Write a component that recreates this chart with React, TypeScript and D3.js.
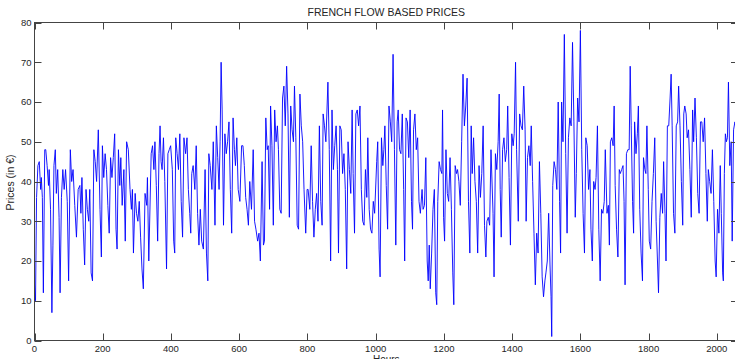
import React from 'react';
import * as d3 from 'd3';

const hours = [
  0,3,6,10,14,18,20,23,26,30,33,37,41,43,47,51,54,57,61,64,68,72,75,79,83,87,91,96,100,105,109,113,118,123,128,133,136,139,143,147,151,155,159,162,166,170,174,178,182,187,192,196,199,203,207,211,215,219,223,227,231,235,239,242,246,250,253,257,262,266,270,275,280,284,287,290,295,299,303,307,311,315,319,324,329,331,335,
  342,346,350,353,357,361,365,368,371,374,378,382,387,391,395,399,404,408,411,414,418,422,426,430,434,438,443,447,451,455,458,461,465,470,474,478,482,486,490,495,500,504,508,511,515,520,524,529,533,537,541,544,547,550,554,558,562,566,570,574,578,582,586,589,593,597,602,607,611,615,619,623,627,631,636,641,645,649,654,658,662,
  667,671,674,678,682,685,689,692,696,700,704,708,712,715,719,723,727,731,735,739,743,747,751,755,759,762,766,770,774,778,782,786,790,795,799,802,807,811,815,819,823,827,831,835,839,843,846,850,854,860,864,868,872,876,880,884,888,891,895,899,903,907,911,915,919,923,927,931,934,938,942,946,950,954,958,962,966,970,974,977,981,985,989,993,997,
  1003,1006,1010,1013,1017,1021,1024,1027,1031,1035,1039,1043,1047,1051,1055,1059,1063,1066,1070,1074,1078,1082,1085,1089,1093,1097,1101,1105,1108,1111,1115,1119,1123,1127,1131,1136,1139,1143,1147,1151,1154,1157,1160,1164,1168,1172,1176,1179,1182,1186,1190,1194,1196,1199,1202,1206,1210,1214,1218,1222,1226,1229,1233,1237,1240,1244,1248,1252,1256,1260,1264,1268,1272,1276,1280,1283,1287,1291,1295,1299,1303,1307,1311,1315,1319,1323,1326,1330,1334,1338,
  1344,1347,1351,1355,1359,1362,1365,1368,1372,1376,1380,1384,1387,1391,1395,1399,1403,1406,1410,1413,1418,1422,1426,1430,1434,1438,1441,1445,1449,1453,1456,1460,1464,1468,1472,1476,1480,1484,1488,1492,1496,1499,1503,1507,1511,1514,1516,1519,1523,1527,1531,1535,1539,1542,1545,1549,1553,1557,1561,1565,1569,1573,1577,1581,1585,1588,1592,1596,1600,1604,1608,1612,1616,1620,1624,1628,1631,1635,1639,1643,1646,1650,1654,1658,1662,1666,1670,1673,
  1678,1682,1685,1688,1692,1696,1699,1702,1706,1710,1714,1717,1721,1725,1728,1731,1735,1739,1743,1746,1749,1753,1756,1759,1763,1767,1770,1774,1778,1782,1785,1789,1792,1795,1799,1802,1806,1810,1814,1818,1822,1826,1829,1833,1837,1841,1844,1848,1851,1855,1859,1863,1866,1869,1873,1877,1881,1885,1888,1892,1896,1900,1903,1906,1910,1913,1917,1921,1925,1929,1932,1936,1940,1944,1948,1952,1956,1960,1964,1968,1972,1975,1979,1983,1987,1991,1995,1998,2002,2006,2010,2013,2017,2019,2022,2025,2028,2031,2034,2038,2042,2045,2049,2053,2058,2062
];

const prices = [
  14,10,36,44,45,38,41,36,12,48,48,44,39,43,33,7,24,44,48,37,43,31,12,36,43,38,43,35,15,48,40,43,34,26,38,39,32,41,28,19,38,33,30,38,17,15,48,45,40,53,33,21,49,41,47,43,34,27,46,41,46,52,28,23,48,39,46,34,43,25,50,48,38,33,38,22,37,32,30,35,26,18,13,37,34,41,20,
  47,49,43,50,39,25,47,54,45,43,51,40,18,47,48,49,43,25,22,51,47,43,52,35,26,51,47,51,38,32,27,42,44,38,49,32,24,33,25,23,43,22,15,47,44,38,50,29,54,46,38,50,70,58,29,52,47,50,55,38,27,56,48,44,51,38,35,49,49,44,36,33,29,40,33,48,30,28,25,27,20,
  45,24,25,56,48,49,33,59,49,29,58,50,54,48,33,32,61,64,54,69,57,31,59,53,50,64,51,29,28,62,54,50,38,27,38,38,33,49,35,26,33,37,30,54,35,29,57,54,50,65,48,20,58,43,49,54,43,22,54,53,42,47,38,18,50,43,37,58,42,27,57,58,54,59,38,30,29,43,36,51,33,28,27,35,32,
  45,50,23,16,51,44,48,54,39,28,59,55,50,72,48,24,55,58,48,47,57,38,20,56,55,46,58,35,28,53,57,48,51,35,32,38,33,34,46,20,15,24,13,22,33,38,12,9,35,45,43,42,58,31,25,48,37,35,46,33,17,9,44,42,43,40,34,50,67,54,59,66,35,22,54,42,51,40,35,22,44,36,42,54,29,21,30,31,29,48,
  32,16,47,43,50,62,38,26,48,51,45,48,59,41,24,52,49,52,70,48,30,57,54,53,64,53,30,46,49,44,54,40,27,14,27,22,45,32,16,11,15,17,20,32,19,11,1,39,45,43,38,60,35,22,60,50,77,47,27,51,56,54,75,55,31,42,61,55,78,48,32,22,51,49,38,43,28,20,40,38,41,54,28,15,33,32,35,48,
  32,34,24,50,51,49,59,39,28,21,43,42,43,44,35,14,47,48,48,69,54,35,27,55,47,52,59,33,22,15,46,43,42,54,38,25,23,35,42,51,30,20,12,31,37,32,45,32,20,54,54,61,67,54,32,27,54,55,64,54,40,29,57,59,57,51,53,43,31,58,50,61,51,37,32,55,55,50,56,42,30,43,40,37,48,35,20,16,33,27,44,32,17,15,42,52,50,51,65,44,50,25,53,55,52,48
];

const xTicks = [0, 200, 400, 600, 800, 1000, 1200, 1400, 1600, 1800, 2000];
const yTicks = [0, 10, 20, 30, 40, 50, 60, 70, 80];
const title = 'FRENCH FLOW BASED PRICES';
const xLabel = 'Hours';
const yLabel = 'Prices (in €)';

export default function App() {
  const W = 735;
  const H = 359;
  const left = 34.5, right = 738, top = 22.5, bottom = 340.5;
  const x = d3.scaleLinear().domain([0, 2062]).range([left, right]);
  const y = d3.scaleLinear().domain([0, 80]).range([bottom, top]);
  const data = hours.map((h, i) => [h, prices[i]] as [number, number]);
  const line = d3.line<[number, number]>().x(d => x(d[0])).y(d => y(d[1]));
  const tickFont = '"Liberation Sans Narrow", "Arial Narrow", "Liberation Sans", sans-serif';
  const axisColor = '#444';
  const textColor = '#262626';
  const tl = 7;
  return (
    <svg width={W} height={H} style={{ position: 'absolute', left: 0, top: 0, background: '#fff' }}>
      <rect x={0} y={0} width={W} height={H} fill="#fff" />
      <text x={(left + right) / 2} y={16} textAnchor="middle" fontFamily={tickFont} fontSize={10.5} fill={textColor}>{title}</text>
      <path d={line(data) || ''} fill="none" stroke="#0000ff" strokeWidth={0.9} />
      <rect x={left} y={top} width={right - left} height={bottom - top} fill="none" stroke={axisColor} strokeWidth={1} />
      {xTicks.map(t => (
        <g key={'x' + t}>
          <line x1={Math.round(x(t)) + 0.5} x2={Math.round(x(t)) + 0.5} y1={bottom} y2={bottom - tl} stroke={axisColor} />
          <line x1={Math.round(x(t)) + 0.5} x2={Math.round(x(t)) + 0.5} y1={top} y2={top + tl} stroke={axisColor} />
          <text x={x(t)} y={351.5} textAnchor="middle" fontFamily={tickFont} fontSize={9.5} fill={textColor}>{t}</text>
        </g>
      ))}
      {yTicks.map(t => (
        <g key={'y' + t}>
          <line x1={left} x2={left + tl} y1={Math.round(y(t)) + 0.5} y2={Math.round(y(t)) + 0.5} stroke={axisColor} />
          <line x1={right} x2={right - tl} y1={Math.round(y(t)) + 0.5} y2={Math.round(y(t)) + 0.5} stroke={axisColor} />
          <text x={31.5} y={y(t)} dy="0.35em" textAnchor="end" fontFamily={tickFont} fontSize={9.5} fill={textColor}>{t}</text>
        </g>
      ))}
      <text x={(left + right) / 2} y={362.5} textAnchor="middle" fontFamily={tickFont} fontSize={10} fill={textColor}>{xLabel}</text>
      <text transform={`translate(14,${(top + bottom) / 2 + 1}) rotate(-90)`} textAnchor="middle" fontFamily={tickFont} fontSize={10.5} fill={textColor}>{yLabel}</text>
    </svg>
  );
}
